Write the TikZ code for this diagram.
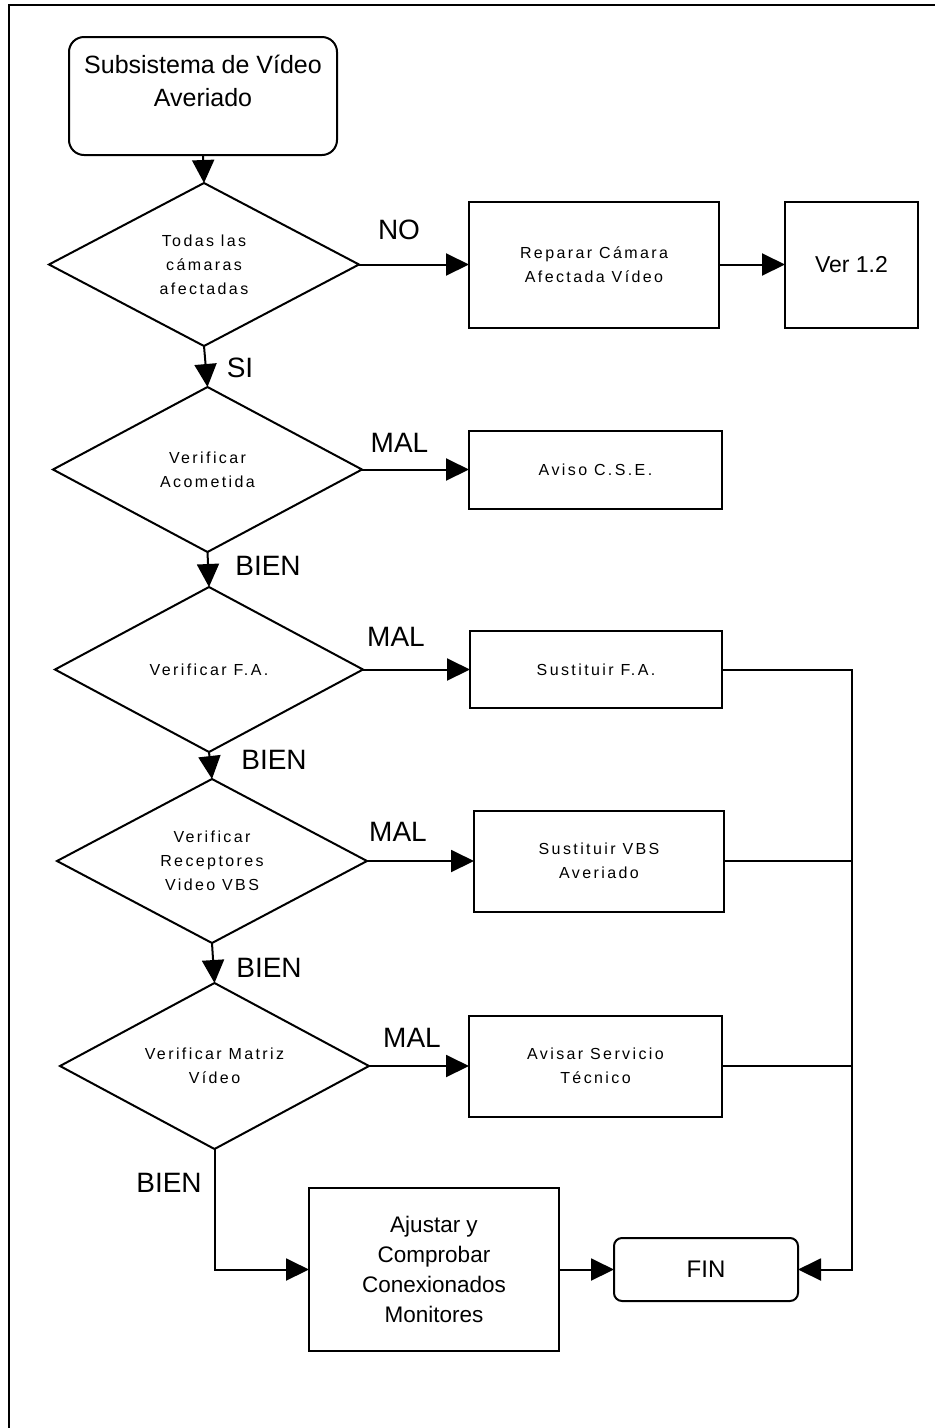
\documentclass[tikz,border=0pt]{standalone}
\usepackage{fontspec}
\setmainfont{Liberation Sans}
\newfontfamily\spacedfont[LetterSpace=15]{Liberation Sans}
\usetikzlibrary{shapes.geometric,arrows.meta}
\begin{document}
\begin{tikzpicture}[x=1pt,y=-1pt,
  every node/.style={inner sep=0pt, outer sep=0pt},
  shp/.style={draw=black, line width=2pt},
  box/.style={shp, rectangle},
  dia/.style={shp, diamond, aspect=1.9},
  small/.style={font=\spacedfont\fontsize{16}{24}\selectfont, align=center},
  lab/.style={font=\fontsize{28}{28}\selectfont},
  arr/.style={line width=2pt, -{Triangle[length=23pt,width=22pt]}},
  ln/.style={line width=2pt}]
\useasboundingbox (0,0) rectangle (935,1428);
% outer frame (left and top only)
\draw[line width=2pt] (9,1428) -- (9,5) -- (935,5);

% start
\node[box, rounded corners=15pt, minimum width=268pt, minimum height=118pt] (start) at (203,96) {};
\node[font=\fontsize{25}{33}\selectfont, align=center] (starttxt) at (203,81) {Subsistema de Vídeo\\Averiado};

% diamonds
\node[dia, minimum width=310pt, minimum height=163pt, small] (d1) at (204,264.5) {Todas las\\cámaras\\afectadas};
\node[dia, minimum width=309pt, minimum height=165pt, small] (d2) at (207.5,469.5) {Verificar\\Acometida};
\node[dia, minimum width=308pt, minimum height=165pt, small] (d3) at (209,669.5) {Verificar F.A.};
\node[dia, minimum width=310pt, minimum height=164pt, small] (d4) at (212,861) {Verificar\\Receptores\\Video VBS};
\node[dia, minimum width=309pt, minimum height=166pt, small] (d5) at (214.5,1066) {Verificar Matriz\\Vídeo};

% boxes
\node[box, minimum width=250pt, minimum height=126pt, small] (rep) at (594,264.5) {Reparar Cámara\\Afectada Vídeo};
\node[box, minimum width=133pt, minimum height=126pt, font=\fontsize{23}{28}\selectfont] (ver) at (851.5,264.5) {Ver 1.2};
\node[box, minimum width=253pt, minimum height=78pt, small] (aviso) at (595.5,469.5) {Aviso C.S.E.};
\node[box, minimum width=252pt, minimum height=77pt, small] (sfa) at (596,669.5) {Sustituir F.A.};
\node[box, minimum width=250pt, minimum height=101pt, small] (vbs) at (599,861) {Sustituir VBS\\Averiado};
\node[box, minimum width=253pt, minimum height=101pt, small] (avs) at (595.5,1066) {Avisar Servicio\\Técnico};
\node[box, minimum width=250pt, minimum height=163pt, font=\fontsize{22.5}{30}\selectfont, align=center] (aj) at (434,1269.5) {Ajustar y\\Comprobar\\Conexionados\\Monitores};
\node[box, rounded corners=8pt, minimum width=184pt, minimum height=63pt, font=\fontsize{24}{28}\selectfont] (fin) at (706,1269.5) {FIN};

% connectors
\draw[arr] (start.south) -- (d1.north);
\draw[arr] (d1.east) -- (rep.west);
\draw[arr] (rep.east) -- (ver.west);
\draw[arr] (d1.south) -- (d2.north);
\draw[arr] (d2.east) -- (aviso.west);
\draw[arr] (d2.south) -- (d3.north);
\draw[arr] (d3.east) -- (sfa.west);
\draw[arr] (d3.south) -- (d4.north);
\draw[arr] (d4.east) -- (vbs.west);
\draw[arr] (d4.south) -- (d5.north);
\draw[arr] (d5.east) -- (avs.west);
\draw[arr] (d5.south) |- (aj.west);
\draw[arr] (aj.east) -- (fin.west);
\coordinate (bus) at (852,1269.5);
\draw[arr] (sfa.east) -| (bus) -- (fin.east);
\draw[ln] (vbs.east) -- (vbs.east -| bus);
\draw[ln] (avs.east) -- (avs.east -| bus);

% labels
\node[lab] (lno) at (399,230) {NO};
\node[lab] (lsi) at (240,368) {SI};
\node[lab] (lmal2) at (399.5,443) {MAL};
\node[lab] (lbien2) at (268,566) {BIEN};
\node[lab] (lmal3) at (396,637) {MAL};
\node[lab] (lbien3) at (274,760) {BIEN};
\node[lab] (lmal4) at (398,832) {MAL};
\node[lab] (lbien4) at (269,968) {BIEN};
\node[lab] (lmal5) at (412,1038) {MAL};
\node[lab] (lbien5) at (169,1183) {BIEN};
\end{tikzpicture}
\end{document}
